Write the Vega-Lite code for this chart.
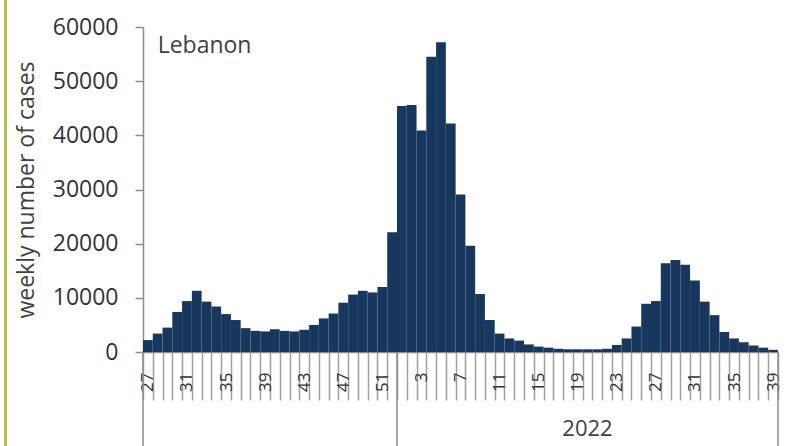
{
  "$schema": "https://vega.github.io/schema/vega-lite/v6.json",
  "width": 635,
  "height": 325,
  "autosize": "none",
  "padding": {"left": 143, "top": 27, "right": 8, "bottom": 94},
  "background": "white",
  "config": {"view": {"stroke": null}, "font": "Open Sans"},
  "datasets": {
    "cases": [
      {"k": "2021-27", "c": 2200}, {"k": "2021-28", "c": 3400}, {"k": "2021-29", "c": 4500},
      {"k": "2021-30", "c": 7400}, {"k": "2021-31", "c": 9400}, {"k": "2021-32", "c": 11300},
      {"k": "2021-33", "c": 9300}, {"k": "2021-34", "c": 8400}, {"k": "2021-35", "c": 7000},
      {"k": "2021-36", "c": 5900}, {"k": "2021-37", "c": 4400}, {"k": "2021-38", "c": 3900},
      {"k": "2021-39", "c": 3800}, {"k": "2021-40", "c": 4200}, {"k": "2021-41", "c": 3900},
      {"k": "2021-42", "c": 3800}, {"k": "2021-43", "c": 4100}, {"k": "2021-44", "c": 5000},
      {"k": "2021-45", "c": 6200}, {"k": "2021-46", "c": 7100}, {"k": "2021-47", "c": 9100},
      {"k": "2021-48", "c": 10600}, {"k": "2021-49", "c": 11300}, {"k": "2021-50", "c": 11000},
      {"k": "2021-51", "c": 12000}, {"k": "2021-52", "c": 22100},
      {"k": "2022-1", "c": 45400}, {"k": "2022-2", "c": 45600}, {"k": "2022-3", "c": 40900},
      {"k": "2022-4", "c": 54500}, {"k": "2022-5", "c": 57200}, {"k": "2022-6", "c": 42200},
      {"k": "2022-7", "c": 29100}, {"k": "2022-8", "c": 19600}, {"k": "2022-9", "c": 10700},
      {"k": "2022-10", "c": 5900}, {"k": "2022-11", "c": 3400}, {"k": "2022-12", "c": 2500},
      {"k": "2022-13", "c": 2100}, {"k": "2022-14", "c": 1400}, {"k": "2022-15", "c": 1000},
      {"k": "2022-16", "c": 800}, {"k": "2022-17", "c": 600}, {"k": "2022-18", "c": 500},
      {"k": "2022-19", "c": 500}, {"k": "2022-20", "c": 500}, {"k": "2022-21", "c": 500},
      {"k": "2022-22", "c": 600}, {"k": "2022-23", "c": 1300}, {"k": "2022-24", "c": 2500},
      {"k": "2022-25", "c": 4700}, {"k": "2022-26", "c": 8900}, {"k": "2022-27", "c": 9400},
      {"k": "2022-28", "c": 16400}, {"k": "2022-29", "c": 17000}, {"k": "2022-30", "c": 16100},
      {"k": "2022-31", "c": 13200}, {"k": "2022-32", "c": 9300}, {"k": "2022-33", "c": 6800},
      {"k": "2022-34", "c": 3700}, {"k": "2022-35", "c": 2500}, {"k": "2022-36", "c": 1800},
      {"k": "2022-37", "c": 1200}, {"k": "2022-38", "c": 800}, {"k": "2022-39", "c": 400}
    ]
  },
  "layer": [
    {
      "layer": [
        {
          "data": {"name": "cases"},
          "mark": {"type": "bar", "color": "#17375e"},
          "encoding": {
            "x": {
              "field": "k", "type": "ordinal", "sort": null,
              "scale": {"paddingInner": 0, "paddingOuter": 0},
              "axis": {
                "title": null,
                "labelAngle": -90,
                "labelExpr": "(toNumber(split(datum.value, '-')[1]) % 4 == 3) ? split(datum.value, '-')[1] : ''",
                "labelOverlap": false,
                "labelFlush": false,
                "labelBound": false,
                "labelFontSize": 17,
                "labelColor": "#333333",
                "labelPadding": -28,
                "tickBand": "extent",
                "tickSize": 48,
                "tickColor": "#a0a0a0",
                "tickWidth": 1.5,
                "domainColor": "#8c8c8c",
                "domainWidth": 1.5
              }
            },
            "y": {
              "field": "c", "type": "quantitative",
              "scale": {"domain": [0, 60000], "nice": false},
              "axis": {
                "title": "weekly number of cases",
                "titleFontSize": 23,
                "titleFontWeight": "normal",
                "titleColor": "#404040",
                "titlePadding": 14,
                "values": [0, 10000, 20000, 30000, 40000, 50000, 60000],
                "format": "d",
                "labelFontSize": 23,
                "labelColor": "#333333",
                "labelPadding": 17,
                "tickSize": 8,
                "tickColor": "#8c8c8c",
                "tickWidth": 1.5,
                "domainColor": "#8c8c8c",
                "domainWidth": 1.5,
                "grid": false
              }
            }
          }
        },
        {
          "data": {"values": [{"k": "2021-27", "y": 0, "y2": -17500}, {"k": "2022-1", "y": 0, "y2": -17500}]},
          "mark": {"type": "rule", "color": "#8c8c8c", "strokeWidth": 1.5},
          "encoding": {
            "x": {"field": "k", "type": "ordinal", "sort": null, "bandPosition": 0},
            "y": {"field": "y", "type": "quantitative", "scale": {"domain": [0, 60000], "nice": false}},
            "y2": {"field": "y2"}
          }
        },
        {
          "data": {"values": [{"k": "2022-39", "y": 0, "y2": -17500}]},
          "mark": {"type": "rule", "color": "#8c8c8c", "strokeWidth": 1.5},
          "encoding": {
            "x": {"field": "k", "type": "ordinal", "sort": null, "bandPosition": 1},
            "y": {"field": "y", "type": "quantitative", "scale": {"domain": [0, 60000], "nice": false}},
            "y2": {"field": "y2"}
          }
        },
        {
          "data": {"values": [{"k": "2021-28", "y": 56500, "t": "Lebanon"}]},
          "mark": {"type": "text", "align": "left", "baseline": "middle", "fontSize": 23, "color": "#404040"},
          "encoding": {
            "x": {"field": "k", "type": "ordinal", "sort": null},
            "y": {"field": "y", "type": "quantitative", "scale": {"domain": [0, 60000], "nice": false}},
            "text": {"field": "t"}
          }
        },
        {
          "data": {"values": [{"k": "2022-20", "y": -14300, "t": "2022"}]},
          "mark": {"type": "text", "align": "center", "baseline": "middle", "fontSize": 22, "color": "#404040"},
          "encoding": {
            "x": {"field": "k", "type": "ordinal", "sort": null},
            "y": {"field": "y", "type": "quantitative", "scale": {"domain": [0, 60000], "nice": false}},
            "text": {"field": "t"}
          }
        }
      ]
    },
    {
      "data": {"values": [{"gx": -0.2165, "y": 65000, "y2": -17600}]},
      "mark": {"type": "rule", "color": "#aec244", "strokeWidth": 3},
      "encoding": {
        "x": {"field": "gx", "type": "quantitative", "scale": {"domain": [0, 1], "zero": false, "nice": false}, "axis": null},
        "y": {"field": "y", "type": "quantitative", "scale": {"domain": [0, 60000], "nice": false}},
        "y2": {"field": "y2"}
      }
    }
  ],
  "resolve": {"scale": {"x": "independent"}}
}
